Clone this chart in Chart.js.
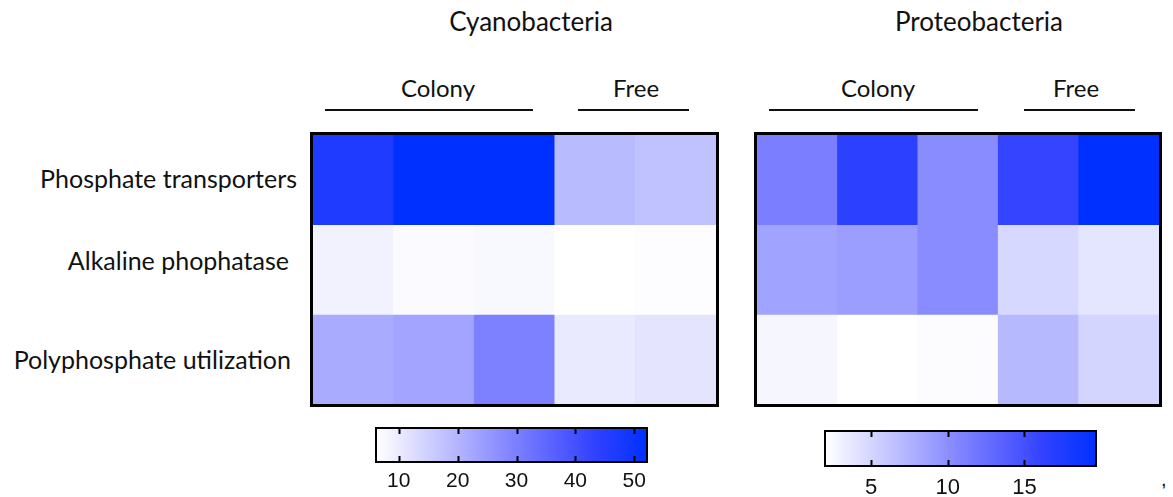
<!DOCTYPE html>
<html>
<head>
<meta charset="utf-8">
<title>Phosphorus acquisition genes</title>
<script src="https://cdn.jsdelivr.net/npm/chart.js@4.4.1/dist/chart.umd.min.js"></script>
<style>
  html, body { margin: 0; padding: 0; background: #fff; }
  body { width: 1173px; height: 497px; position: relative; overflow: hidden;
         font-family: Lato, "Open Sans", sans-serif; color: #111; }
  canvas { position: absolute; }
  .txt { position: absolute; white-space: nowrap; transform: translate(-50%, -50%); line-height: 1; }
  .title { font-size: 26px; }
  .group { font-size: 24px; }
  .row { position: absolute; white-space: nowrap; transform: translate(-100%, -50%);
         line-height: 1; font-size: 25px; }
  .rule { position: absolute; height: 2px; background: #111; }
  .frame { position: absolute; border: 3px solid #000; pointer-events: none; }
  .mark { position: absolute; font-family: "Liberation Sans", Arial, sans-serif; font-size: 20px; }
</style>
</head>
<body>

<div class="txt title" style="left:531px; top:21px;">Cyanobacteria</div>
<div class="txt title" style="left:979px; top:21px;">Proteobacteria</div>

<div class="txt group" style="left:438px; top:88px;">Colony</div>
<div class="txt group" style="left:636px; top:88px;">Free</div>
<div class="txt group" style="left:878px; top:88px;">Colony</div>
<div class="txt group" style="left:1076px; top:88px;">Free</div>

<div class="rule" style="left:325px; width:208px; top:109px;"></div>
<div class="rule" style="left:578px; width:111px; top:109px;"></div>
<div class="rule" style="left:769px; width:209px; top:109px;"></div>
<div class="rule" style="left:1024px; width:111px; top:109px;"></div>

<div id="rowLabels"></div>

<canvas id="cyanoMap" width="403" height="269" style="left:313px; top:135px;"></canvas>
<canvas id="proteoMap" width="402" height="269" style="left:757px; top:135px;"></canvas>
<div class="frame" style="left:310px; top:132px; width:403px; height:269px;"></div>
<div class="frame" style="left:754px; top:132px; width:402px; height:269px;"></div>

<canvas id="cyanoBar" width="310" height="77" style="left:360px; top:420px;"></canvas>
<canvas id="proteoBar" width="300" height="81" style="left:810px; top:420px;"></canvas>

<div class="mark" style="left:1161px; top:468px;">,</div>

<script>
// Gene groups (rows) and metagenome samples (columns)
const geneGroups = ['Phosphate transporters', 'Alkaline phophatase', 'Polyphosphate utilization'];
const samples = ['Colony 1', 'Colony 2', 'Colony 3', 'Free 1', 'Free 2'];

// Cyanobacteria: relative abundance per sample
const cyanoTransporters = [46.5, 52.0, 52.0, 18.9, 17.7];
const cyanoAlkaline     = [8.7, 7.1, 7.6, 6.3, 6.7];
const cyanoPolyP        = [21.7, 23.1, 29.6, 10.1, 11.2];

// Proteobacteria: relative abundance per sample
const proteoTransporters = [11.2, 16.6, 10.2, 16.0, 19.6];
const proteoAlkaline     = [8.6, 9.0, 10.2, 4.8, 3.9];
const proteoPolyP        = [2.7, 2.06, 2.3, 7.0, 5.0];

// Colour-bar tick labels
const cyanoTicks  = [10, 20, 30, 40, 50];
const proteoTicks = [5, 10, 15];

// White-to-blue colour ramp
const rampStops = [
  { t: 0.0, c: [255, 255, 255] },
  { t: 0.5, c: [128, 131, 255] },
  { t: 0.8, c: [51, 67, 255] },
  { t: 1.0, c: [0, 48, 255] }
];

function rampColor(t) {
  t = Math.max(0, Math.min(1, t));
  for (let i = 1; i < rampStops.length; i++) {
    const a = rampStops[i - 1], b = rampStops[i];
    if (t <= b.t) {
      const f = (t - a.t) / (b.t - a.t);
      const c = a.c.map((v, k) => Math.round(v + (b.c[k] - v) * f));
      return `rgb(${c[0]},${c[1]},${c[2]})`;
    }
  }
  const c = rampStops[rampStops.length - 1].c;
  return `rgb(${c[0]},${c[1]},${c[2]})`;
}

function extent(matrix) {
  const all = matrix.flat();
  return [Math.min(...all), Math.max(...all)];
}

// Row labels to the left of the first panel (right edge, vertical centre)
const rowPlacement = [[297, 178], [289, 260], [291, 359]];
const rowBox = document.getElementById('rowLabels');
geneGroups.forEach((name, i) => {
  const d = document.createElement('div');
  d.className = 'row';
  d.style.left = rowPlacement[i][0] + 'px';
  d.style.top = rowPlacement[i][1] + 'px';
  d.textContent = name;
  rowBox.appendChild(d);
});

const quiet = {
  responsive: false,
  animation: false,
  events: [],
  plugins: { legend: { display: false }, tooltip: { enabled: false } }
};

// Heat map: one stacked bar segment per cell, coloured by its value
function drawHeatmap(id, matrix) {
  const [lo, hi] = extent(matrix);
  return new Chart(document.getElementById(id), {
    type: 'bar',
    data: {
      labels: samples,
      datasets: matrix.map((vals, r) => ({
        label: geneGroups[r],
        data: vals.map(() => 1),
        backgroundColor: vals.map(v => rampColor((v - lo) / (hi - lo))),
        borderWidth: 0,
        barPercentage: 1,
        categoryPercentage: 1
      }))
    },
    options: {
      ...quiet,
      layout: { padding: 0 },
      scales: {
        x: { display: false, stacked: true },
        y: { display: false, stacked: true, reverse: true, min: 0, max: geneGroups.length }
      }
    }
  });
}

// Frame and inward tick marks of a colour bar
const barFrame = {
  id: 'barFrame',
  afterDatasetsDraw(chart) {
    const { ctx, chartArea: a, scales: { x } } = chart;
    ctx.save();
    ctx.strokeStyle = '#000';
    ctx.lineWidth = 2;
    x.ticks.forEach(t => {
      const px = Math.round(x.getPixelForValue(t.value)) + 0.5;
      ctx.beginPath();
      ctx.moveTo(px, a.top); ctx.lineTo(px, a.top + 5);
      ctx.moveTo(px, a.bottom); ctx.lineTo(px, a.bottom - 5);
      ctx.stroke();
    });
    ctx.strokeRect(a.left - 1, a.top - 1, a.right - a.left + 2, a.bottom - a.top + 2);
    ctx.restore();
  }
};

function drawColorBar(id, matrix, ticks, pad, fontSize, tickPad) {
  const [lo, hi] = extent(matrix);
  return new Chart(document.getElementById(id), {
    type: 'bar',
    data: {
      labels: ['scale'],
      datasets: [{
        data: [[lo, hi]],
        backgroundColor(ctx) {
          const chart = ctx.chart;
          const x = chart.scales.x;
          if (!chart.chartArea || !x) return '#fff';
          const x0 = x.getPixelForValue(lo), x1 = x.getPixelForValue(hi);
          const g = chart.ctx.createLinearGradient(x0, 0, x1, 0);
          for (let i = 0; i <= 20; i++) g.addColorStop(i / 20, rampColor(i / 20));
          return g;
        },
        borderWidth: 0,
        barPercentage: 1,
        categoryPercentage: 1
      }]
    },
    options: {
      ...quiet,
      indexAxis: 'y',
      layout: { padding: { left: pad.left, right: pad.right, top: pad.top, bottom: 0 } },
      scales: {
        x: {
          type: 'linear', min: lo, max: hi, position: 'bottom',
          grid: { display: false, drawTicks: false },
          border: { display: false },
          ticks: {
            color: '#111', padding: tickPad,
            font: { family: 'Liberation Sans', size: fontSize }
          },
          afterBuildTicks(scale) { scale.ticks = ticks.map(v => ({ value: v })); },
          afterFit(scale) { scale.height = 36; }
        },
        y: { display: false }
      }
    },
    plugins: [barFrame]
  });
}

const cyanoMatrix  = [cyanoTransporters, cyanoAlkaline, cyanoPolyP];
const proteoMatrix = [proteoTransporters, proteoAlkaline, proteoPolyP];

drawHeatmap('cyanoMap', cyanoMatrix);
drawHeatmap('proteoMap', proteoMatrix);
drawColorBar('cyanoBar', cyanoMatrix, cyanoTicks, { left: 17, right: 24, top: 9 }, 21, 8);
drawColorBar('proteoBar', proteoMatrix, proteoTicks, { left: 16, right: 15, top: 12 }, 22, 10);
</script>
</body>
</html>
